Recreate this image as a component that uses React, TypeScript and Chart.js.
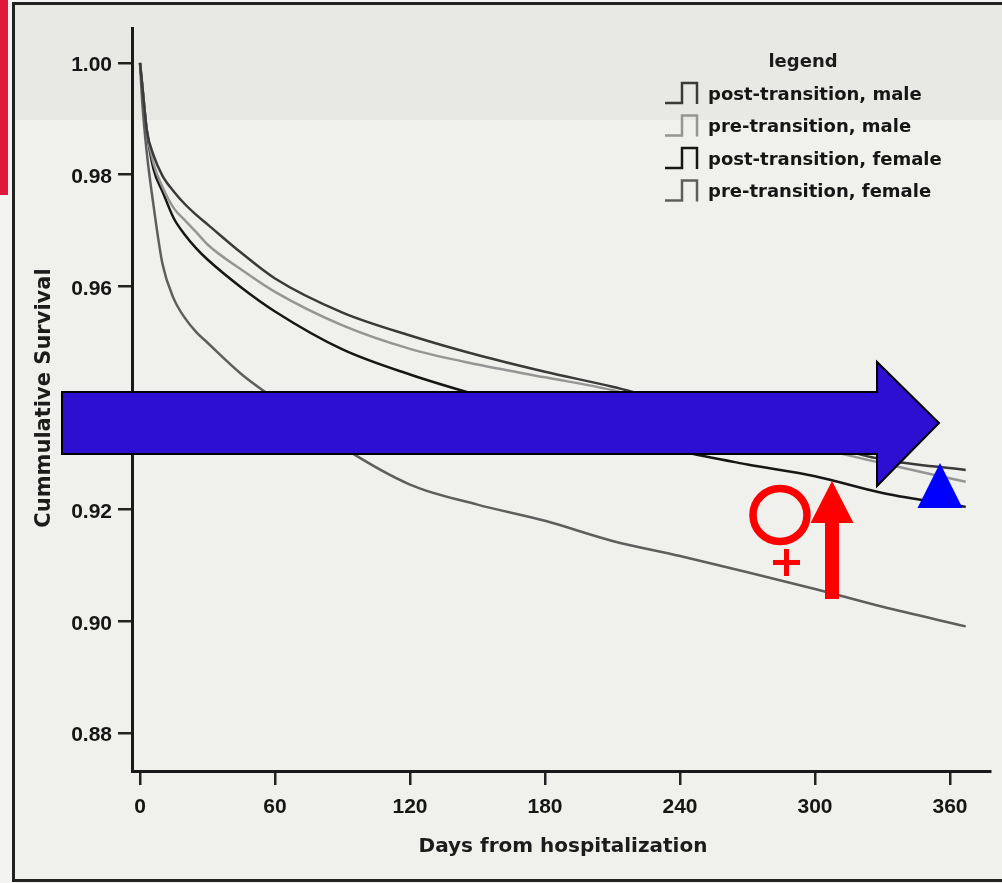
import { useEffect, useRef } from "react"
import { Chart, registerables } from "chart.js"

Chart.register(...registerables)

// days from hospitalization, shared by all four curves
const days = [0, 1, 3, 6, 10, 15, 20, 25, 30, 45, 60, 90, 120, 150, 180, 210, 240, 270, 300, 330, 367]

const postMale = [1.0, 0.996, 0.988, 0.9835, 0.9798, 0.977, 0.9747, 0.9728, 0.9711, 0.966, 0.9614, 0.9553, 0.9512, 0.9477, 0.9447, 0.942, 0.9388, 0.9355, 0.932, 0.929, 0.9271]
const preMale = [1.0, 0.996, 0.988, 0.982, 0.9778, 0.974, 0.9718, 0.9697, 0.9675, 0.963, 0.959, 0.953, 0.9488, 0.946, 0.9437, 0.9414, 0.938, 0.9345, 0.9312, 0.9283, 0.925]
const postFemale = [1.0, 0.996, 0.988, 0.981, 0.977, 0.9722, 0.9692, 0.9668, 0.9648, 0.9598, 0.9555, 0.9487, 0.9442, 0.9405, 0.9372, 0.9338, 0.9305, 0.9281, 0.926, 0.923, 0.9205]
const preFemale = [1.0, 0.993, 0.984, 0.9745, 0.964, 0.9578, 0.9543, 0.9518, 0.9499, 0.9443, 0.9398, 0.9312, 0.9245, 0.9209, 0.918, 0.9144, 0.9117, 0.9088, 0.9058, 0.9026, 0.8991]

const seriesLabels = ["post-transition, male", "pre-transition, male", "post-transition, female", "pre-transition, female"]
const seriesColors = ["#3a3a3a", "#959595", "#161616", "#5e5e5e"]

const xTicks = [0, 60, 120, 180, 240, 300, 360]
const yTicks = [0.88, 0.9, 0.92, 0.94, 0.96, 0.98, 1.0]

// overlay marks, in data units (day, survival)
const blueArrow = { x0: -34.67, headX: 327.56, tipX: 355.11, bodyTop: 0.94108, bodyBottom: 0.92997, headTop: 0.94645, headBottom: 0.92424, tipY: 0.93553 }
const femaleSign = { cx: 284.44, cy: 0.91905, plusX: 287.33, plusY: 0.91054 }
const redArrow = { x: 307.56, tipY: 0.92514, headBaseY: 0.91762, bottomY: 0.904 }
const blueTriangle = { x: 355.56, apexY: 0.92836, baseY: 0.9203 }

const boldSans = "'DejaVu Sans', sans-serif"
const tickFont = "'Liberation Sans', Arial, sans-serif"

const decorations = {
  id: "decorations",
  beforeDraw(chart: Chart) {
    const ctx = chart.ctx
    const w = chart.width
    const h = chart.height
    ctx.save()
    ctx.fillStyle = "#f3f3f1"
    ctx.fillRect(0, 0, w, h)
    ctx.fillStyle = "#f0f0ec"
    ctx.fillRect(13, 3, w - 13, h - 5)
    ctx.fillStyle = "#e8e8e5"
    ctx.fillRect(13, 3, w - 13, 117)
    // red strip at the left edge
    ctx.fillStyle = "#e0183a"
    ctx.fillRect(0, 0, 8, 195)
    // frame
    ctx.strokeStyle = "#222"
    ctx.lineWidth = 3
    ctx.beginPath()
    ctx.moveTo(w, 3.5)
    ctx.lineTo(13.5, 3.5)
    ctx.lineTo(13.5, 880.5)
    ctx.lineTo(w, 880.5)
    ctx.stroke()
    ctx.restore()
  },
  afterDraw(chart: Chart) {
    const ctx = chart.ctx
    const xs = chart.scales.x
    const ys = chart.scales.y
    const px = (v: number) => xs.getPixelForValue(v)
    const py = (v: number) => ys.getPixelForValue(v)
    ctx.save()

    // axis titles
    ctx.fillStyle = "#1c1c1c"
    ctx.font = `bold 20px ${boldSans}`
    ctx.textAlign = "center"
    ctx.textBaseline = "middle"
    ctx.fillText("Days from hospitalization", (chart.chartArea.left + chart.chartArea.right) / 2 + 2, 847)
    ctx.save()
    ctx.translate(45, 398)
    ctx.rotate(-Math.PI / 2)
    ctx.font = `bold 21px ${boldSans}`
    ctx.fillText("Cummulative Survival", 0, 0)
    ctx.restore()

    // legend
    ctx.font = `bold 18px ${boldSans}`
    ctx.fillText("legend", 803, 62)
    ctx.textAlign = "left"
    seriesLabels.forEach((label, i) => {
      const cy = 95 + i * 32.5
      ctx.strokeStyle = seriesColors[i]
      ctx.lineWidth = 2.5
      ctx.beginPath()
      ctx.moveTo(665, cy + 8)
      ctx.lineTo(682, cy + 8)
      ctx.lineTo(682, cy - 12)
      ctx.lineTo(697, cy - 12)
      ctx.lineTo(697, cy + 9)
      ctx.stroke()
      ctx.fillStyle = "#161616"
      ctx.fillText(label, 708, cy)
    })

    // big blue arrow
    ctx.beginPath()
    ctx.moveTo(px(blueArrow.x0), py(blueArrow.bodyTop))
    ctx.lineTo(px(blueArrow.headX), py(blueArrow.bodyTop))
    ctx.lineTo(px(blueArrow.headX), py(blueArrow.headTop))
    ctx.lineTo(px(blueArrow.tipX), py(blueArrow.tipY))
    ctx.lineTo(px(blueArrow.headX), py(blueArrow.headBottom))
    ctx.lineTo(px(blueArrow.headX), py(blueArrow.bodyBottom))
    ctx.lineTo(px(blueArrow.x0), py(blueArrow.bodyBottom))
    ctx.closePath()
    ctx.fillStyle = "#2d0fd2"
    ctx.fill()
    ctx.strokeStyle = "#000"
    ctx.lineWidth = 2
    ctx.stroke()

    // female sign
    ctx.strokeStyle = "#ff0000"
    ctx.lineWidth = 7.5
    ctx.beginPath()
    ctx.ellipse(px(femaleSign.cx), py(femaleSign.cy), 27, 26.5, 0, 0, Math.PI * 2)
    ctx.stroke()
    ctx.fillStyle = "#ff0000"
    const pcx = px(femaleSign.plusX)
    const pcy = py(femaleSign.plusY)
    ctx.fillRect(pcx - 13.5, pcy - 2.5, 27, 5)
    ctx.fillRect(pcx - 2.5, pcy - 13.5, 5, 27)

    // red arrow pointing up
    const rx = px(redArrow.x)
    ctx.beginPath()
    ctx.moveTo(rx, py(redArrow.tipY))
    ctx.lineTo(rx + 21.5, py(redArrow.headBaseY))
    ctx.lineTo(rx + 7, py(redArrow.headBaseY))
    ctx.lineTo(rx + 7, py(redArrow.bottomY))
    ctx.lineTo(rx - 7, py(redArrow.bottomY))
    ctx.lineTo(rx - 7, py(redArrow.headBaseY))
    ctx.lineTo(rx - 21.5, py(redArrow.headBaseY))
    ctx.closePath()
    ctx.fill()

    // blue triangle
    const tx = px(blueTriangle.x)
    ctx.fillStyle = "#0000ff"
    ctx.beginPath()
    ctx.moveTo(tx, py(blueTriangle.apexY))
    ctx.lineTo(tx + 22.5, py(blueTriangle.baseY))
    ctx.lineTo(tx - 22.5, py(blueTriangle.baseY))
    ctx.closePath()
    ctx.fill()

    ctx.restore()
  },
}

export default function App() {
  const canvasRef = useRef<HTMLCanvasElement>(null)

  useEffect(() => {
    if (!canvasRef.current) return
    const ctx = canvasRef.current.getContext("2d")
    if (!ctx) return

    const series = [postMale, preMale, postFemale, preFemale]

    const chart = new Chart(ctx, {
      type: "line",
      data: {
        datasets: series.map((values, i) => ({
          label: seriesLabels[i],
          data: days.map((d, j) => ({ x: d, y: values[j] })),
          borderColor: seriesColors[i],
          borderWidth: 2.5,
          pointRadius: 0,
          fill: false,
          cubicInterpolationMode: "monotone" as const,
        })),
      },
      options: {
        animation: false,
        responsive: false,
        devicePixelRatio: 1,
        layout: { padding: { left: 0, right: 12, top: 28, bottom: 0 } },
        plugins: {
          legend: { display: false },
          tooltip: { enabled: false },
        },
        scales: {
          x: {
            type: "linear",
            min: -3.556,
            max: 377.78,
            afterFit: (scale) => {
              scale.height = 112
            },
            afterBuildTicks: (scale) => {
              scale.ticks = xTicks.map((v) => ({ value: v }))
            },
            border: { display: true, color: "#1a1a1a", width: 3 },
            grid: { drawOnChartArea: false, drawTicks: true, tickLength: 14, color: "#222", lineWidth: 2.5 },
            ticks: {
              color: "#161616",
              padding: 10,
              font: { family: tickFont, size: 21, weight: "bold" },
              callback: (v) => String(v),
            },
          },
          y: {
            type: "linear",
            min: 0.873194,
            max: 1.006268,
            afterFit: (scale) => {
              scale.width = 132
            },
            afterBuildTicks: (scale) => {
              scale.ticks = yTicks.map((v) => ({ value: v }))
            },
            border: { display: true, color: "#1a1a1a", width: 3 },
            grid: { drawOnChartArea: false, drawTicks: true, tickLength: 14, color: "#222", lineWidth: 2.5 },
            ticks: {
              color: "#161616",
              padding: 6,
              labelOffset: 2.5,
              font: { family: tickFont, size: 21, weight: "bold" },
              callback: (v) => Number(v).toFixed(2),
            },
          },
        },
      },
      plugins: [decorations],
    })

    return () => {
      chart.destroy()
    }
  }, [])

  return (
    <div style={{ position: "absolute", left: 0, top: 0, width: 1002, height: 883 }}>
      <canvas ref={canvasRef} width={1002} height={883} style={{ display: "block" }} />
    </div>
  )
}
